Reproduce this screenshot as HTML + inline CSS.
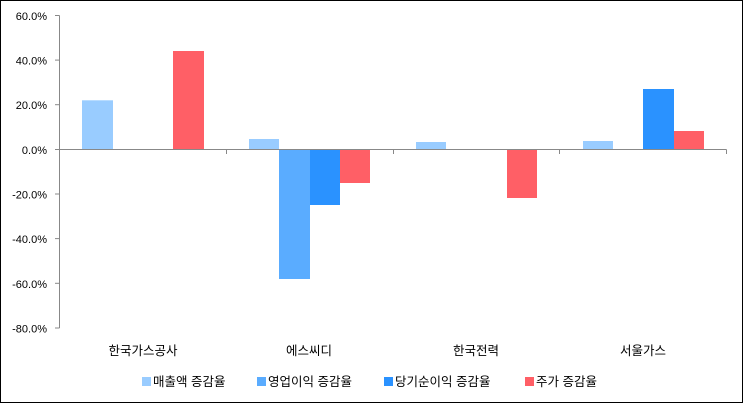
<!DOCTYPE html>
<html><head><meta charset="utf-8"><style>
html,body{margin:0;padding:0;background:#fff}
svg{display:block}
text{font-family:"Liberation Sans","Noto Sans CJK KR","NanumGothic",sans-serif;font-size:11px;fill:#000}
.k{font-size:12.5px}
</style></head><body>
<svg width="743" height="403" xmlns="http://www.w3.org/2000/svg">
<rect x="0.5" y="0.5" width="742" height="402" fill="#fff" stroke="#000"/>
<g fill="#99CCFF">
<rect x="82" y="100.3" width="31" height="49.2"/>
<rect x="249" y="139" width="30" height="10.5"/>
<rect x="416" y="142" width="30" height="7.5"/>
<rect x="583" y="141" width="30" height="8.5"/>
</g>
<g fill="#5AACFF">
<rect x="279" y="149.5" width="31" height="129.5"/>
</g>
<g fill="#2A92FF">
<rect x="310" y="149.5" width="30" height="55.5"/>
<rect x="643" y="89" width="31" height="60.5"/>
</g>
<g fill="#FF5F66">
<rect x="173" y="51" width="31" height="98.5"/>
<rect x="340" y="149.5" width="30" height="33.5"/>
<rect x="507" y="149.5" width="30" height="48.5"/>
<rect x="674" y="131" width="30" height="18.5"/>
</g>
<g stroke="#888" stroke-width="1" fill="none">
<line x1="59.5" y1="15.5" x2="59.5" y2="328"/>
<line x1="55" y1="15.5" x2="59.5" y2="15.5"/>
<line x1="55" y1="60.1" x2="59.5" y2="60.1"/>
<line x1="55" y1="104.7" x2="59.5" y2="104.7"/>
<line x1="55" y1="149.5" x2="59.5" y2="149.5"/>
<line x1="55" y1="194" x2="59.5" y2="194"/>
<line x1="55" y1="238.6" x2="59.5" y2="238.6"/>
<line x1="55" y1="283.3" x2="59.5" y2="283.3"/>
<line x1="55" y1="328" x2="59.5" y2="328"/>
<line x1="59.5" y1="149.5" x2="726.5" y2="149.5"/>
<line x1="226.5" y1="149.5" x2="226.5" y2="154"/>
<line x1="393.5" y1="149.5" x2="393.5" y2="154"/>
<line x1="559.5" y1="149.5" x2="559.5" y2="154"/>
<line x1="726.5" y1="149.5" x2="726.5" y2="154"/>
</g>
<g text-anchor="end">
<text x="47" y="20">60.0%</text>
<text x="47" y="64.5">40.0%</text>
<text x="47" y="109">20.0%</text>
<text x="47" y="154">0.0%</text>
<text x="47" y="198.5">-20.0%</text>
<text x="47" y="243">-40.0%</text>
<text x="47" y="288">-60.0%</text>
<text x="47" y="332.5">-80.0%</text>
</g>
<g text-anchor="middle" class="k">
<text class="k" x="143" y="355">한국가스공사</text>
<text class="k" x="309" y="355">에스씨디</text>
<text class="k" x="476" y="355">한국전력</text>
<text class="k" x="643" y="355">서울가스</text>
</g>
<rect x="142" y="377" width="9" height="9" fill="#99CCFF"/>
<text class="k" x="153" y="386">매출액 증감율</text>
<rect x="257" y="377" width="9" height="9" fill="#5AACFF"/>
<text class="k" x="268" y="386">영업이익 증감율</text>
<rect x="384" y="377" width="9" height="9" fill="#2A92FF"/>
<text class="k" x="395" y="386">당기순이익 증감율</text>
<rect x="525" y="377" width="9" height="9" fill="#FF5F66"/>
<text class="k" x="536" y="386">주가 증감율</text>
</svg>
</body></html>
